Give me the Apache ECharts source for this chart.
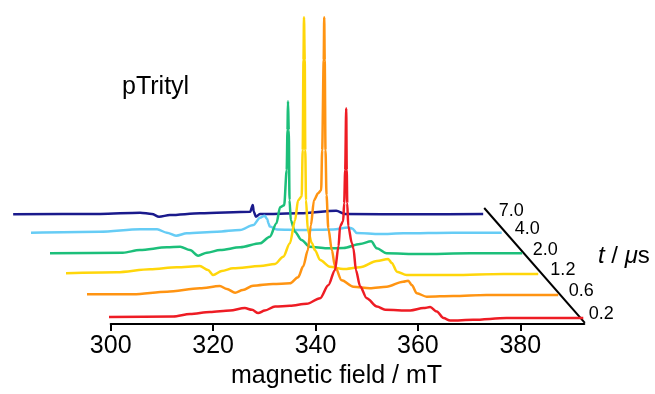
<!DOCTYPE html>
<html><head><meta charset="utf-8">
<script src="https://cdn.jsdelivr.net/npm/echarts@6/dist/echarts.min.js"></script>
<style>html,body{margin:0;padding:0;background:#fff}#c{width:655px;height:394px}</style>
</head><body><div id="c"></div>
<script>
// ---- data ----
const delayLabels = ['0.2', '0.6', '1.2', '2.0', '4.0', '7.0'];
const xTicks = [300, 320, 340, 360, 380];

// [magnetic field (mT), echo intensity (a.u.)]
const trace02 = [[299.1,0],[312.2,0.6],[315.5,3],[319.4,5],[323.3,6.6],[326.2,9],[327.6,7.3],[328.8,4],[330.1,6.6],[332.1,10.6],[335.0,11.3],[338.3,13.3],[340.9,19],[342.5,32],[343.8,47],[344.5,71],[344.8,91],[345.4,96],[345.6,114],[345.8,147],[346.0,209],[346.1,147],[346.2,114],[346.4,91],[347.1,74],[347.4,69],[347.9,47],[348.7,31],[350.0,19],[352.0,10.6],[353.6,7.3],[358.5,6.6],[361.1,9],[362.4,10],[363.7,5.6],[365.0,-1],[366.3,-3.4],[370.8,-2.7],[377.3,-1],[387.1,-1],[392.3,-1]];
const trace06 = [[299.3,0],[308.7,0],[315.3,2.6],[321.7,6],[325.6,8.3],[327.0,5.3],[328.6,1.6],[330.1,4.3],[332.1,8.6],[336.0,10.3],[339.3,11],[340.9,17],[341.9,28],[342.8,44],[343.4,69],[344.0,94],[344.8,101],[345.4,104],[345.6,144],[345.9,234],[346.0,277],[346.1,234],[346.25,144],[346.45,99],[346.8,66],[347.5,44],[348.1,28],[349.4,14],[351.7,7.6],[354.9,6],[358.2,7.6],[361.4,12.6],[362.4,13.6],[363.1,9.3],[364.1,1],[366.0,-2.4],[371.2,-1.7],[377.7,-0.7],[384.2,-0.7],[391.7,-0.7]];
const trace12 = [[299.3,0],[309.6,1],[316.1,4],[321.3,6],[325.8,7.3],[327.4,3.3],[328.4,-1.7],[330.1,2.3],[332.3,5],[337.6,7.3],[340.5,9.3],[342.1,16.6],[343.4,30],[344.4,53],[345.0,73],[345.7,77],[345.9,123],[346.05,213],[346.15,256],[346.3,213],[346.4,123],[346.55,73],[346.9,43],[347.7,30],[348.3,23],[349.3,13.3],[351.2,6.6],[353.8,4.3],[357.1,6],[360.4,12.3],[362.6,14.3],[363.3,10.3],[364.3,1.6],[366.2,-1.7],[375.3,-1.7],[385.1,-0.7],[391.9,-0.7]];
const trace20 = [[299.3,0],[313.9,0.6],[317.2,3.3],[322.5,6],[325.1,6.6],[327.0,3.3],[328.6,-2.4],[330.3,0.6],[332.9,3.3],[336.8,6],[340.7,10],[342.6,16.6],[343.9,30],[344.6,46],[345.4,48],[345.9,83],[346.05,123],[346.15,152],[346.3,123],[346.45,53],[346.7,33],[347.5,21.6],[348.8,13.3],[350.4,6.6],[353.7,5],[357.0,5.3],[360.2,9.3],[362.4,12],[363.5,5],[365.4,0],[371.9,-0.7],[381.7,0],[391.9,0]];
const trace40 = [[299.3,0],[313.1,1],[321.0,3.4],[324.3,3.4],[326.2,0],[328.0,-3],[330.1,-0.6],[336.0,1],[340.5,2.7],[343.1,7.7],[344.4,15],[345.3,17],[345.8,13.7],[346.05,9.4],[346.3,6.2],[347.7,3.2],[352.2,2.7],[358.7,3.2],[361.6,5.2],[362.4,4.2],[363.3,-0.3],[367.8,-1.3],[372.4,-0.6],[382.1,0],[391.6,0]];
const trace70 = [[299.7,0],[316.7,0.3],[324.5,1.6],[326.8,0.3],[328.2,-2.4],[330.3,-0.7],[336.2,1],[346.0,2.6],[346.5,9.3],[346.7,2.6],[347.1,-2.4],[347.9,0.3],[355.7,1],[362.8,3.5],[364.5,0.3],[379.2,0],[391.5,0.3]];

const traces = [trace02, trace06, trace12, trace20, trace40, trace70];

// ---- style / layout ----
const colors = ['#ee1c24', '#ff9412', '#ffd60a', '#1cbf7a', '#66ccf5', '#1a1a8c'];
const FONT = '"Liberation Sans", Arial, Helvetica, sans-serif';
const fieldMin = 300, fieldMax = 392.5;
const axisLeft = 110.7, pxPerMT = 5.12;
const shiftX = [0, 22, 43, 59, 78, 96];
const baseY = [317.3, 294.3, 273.3, 253.3, 232.7, 214.3];
const yMin = -7, yMax = 200;

const chart = echarts.init(document.getElementById('c'), null, {renderer: 'canvas'});

const grids = [], xAxes = [], yAxes = [], series = [];
traces.forEach((tr, k) => {
  grids.push({
    left: axisLeft - shiftX[k],
    top: baseY[k] - yMax,
    width: (fieldMax - fieldMin) * pxPerMT,
    height: yMax - yMin,
    containLabel: false
  });
  const front = k === 0;
  xAxes.push({
    type: 'value', gridIndex: k, min: fieldMin, max: fieldMax, show: front,
    axisLine: {show: true, onZero: false, lineStyle: {color: '#000', width: 2}},
    axisTick: {show: true, inside: false, length: 7, customValues: xTicks, lineStyle: {color: '#000', width: 2}},
    axisLabel: {show: true, customValues: xTicks, color: '#000', fontSize: 25, fontFamily: FONT, margin: 10},
    splitLine: {show: false},
    name: front ? 'magnetic field / mT' : '',
    nameLocation: 'middle', nameGap: 39,
    nameTextStyle: {color: '#000', fontSize: 25, fontFamily: FONT, padding: [0, 22, 0, 0]}
  });
  yAxes.push({type: 'value', gridIndex: k, min: yMin, max: yMax, show: false, splitLine: {show: false}});
  series.push({
    type: 'line', name: delayLabels[k], xAxisIndex: k, yAxisIndex: k, data: tr,
    showSymbol: false, symbol: 'none', clip: false, smooth: 0.3, smoothMonotone: 'x',
    lineStyle: {color: colors[k], width: 2.5}, z: 10 - k, silent: true
  });
});

chart.setOption({
  animation: false,
  backgroundColor: '#fff',
  grid: grids, xAxis: xAxes, yAxis: yAxes, series: series
});

// back axis (delay time t) drawn diagonally through the ends of the traces
const pFront = chart.convertToPixel({gridIndex: 0}, [392.6, -5.7]);
const pBack = chart.convertToPixel({gridIndex: 5}, [391.7, 6.3]);
const xOnDiag = (y) => pFront[0] + (y - pFront[1]) * (pBack[0] - pFront[0]) / (pBack[1] - pFront[1]);

const graphics = [{
  type: 'line', silent: true,
  shape: {x1: pFront[0], y1: pFront[1], x2: pBack[0], y2: pBack[1]},
  style: {stroke: '#000', lineWidth: 2}
}];
delayLabels.forEach((lab, k) => {
  const y = chart.convertToPixel({gridIndex: k}, [fieldMax, 3.5])[1];
  graphics.push({
    type: 'text', silent: true,
    style: {text: lab, x: xOnDiag(y) + 12, y: y, fill: '#000', fontSize: 18, fontFamily: FONT, align: 'left', verticalAlign: 'middle'}
  });
});
graphics.push({
  type: 'text', silent: true,
  style: {text: '{i|t} / {i|μ}s', x: 598, y: 256, fill: '#000', fontSize: 24, fontFamily: FONT, align: 'left', verticalAlign: 'middle',
    rich: {i: {fontStyle: 'italic', fontSize: 24, fontFamily: FONT}}}
});
graphics.push({
  type: 'text', silent: true,
  style: {text: 'pTrityl', x: 122, y: 87, fill: '#000', fontSize: 25, fontFamily: FONT, align: 'left', verticalAlign: 'middle'}
});
chart.setOption({graphic: graphics});
</script>
</body></html>
